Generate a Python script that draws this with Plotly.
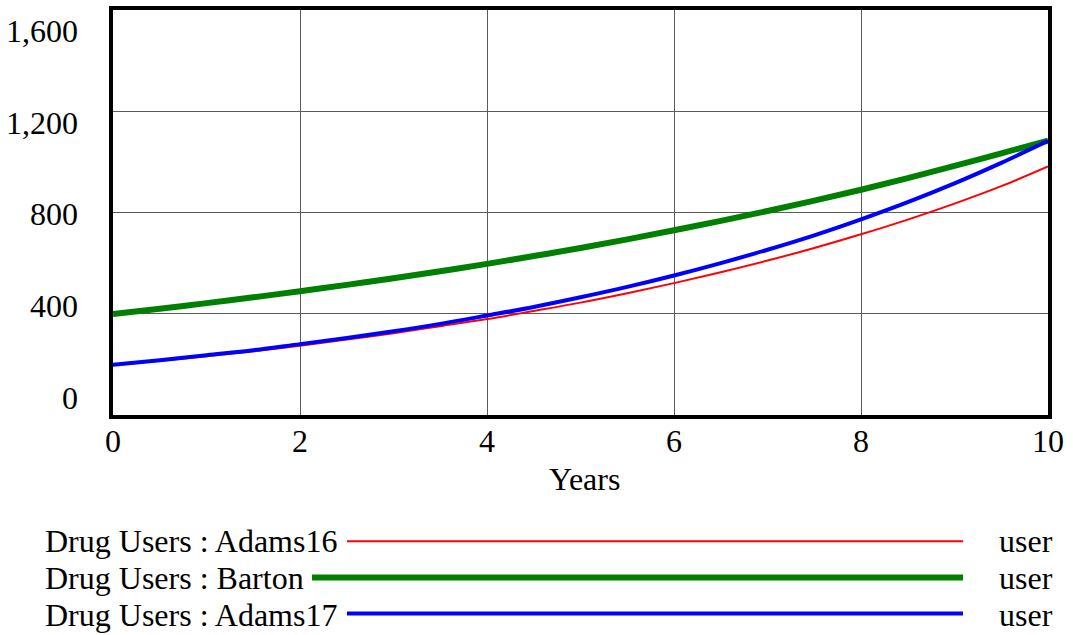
import plotly.graph_objects as go

# ---- data ----
years = [0, 0.5, 1, 1.5, 2, 2.5, 3, 3.5, 4, 4.5, 5, 5.5, 6, 6.5, 7, 7.5, 8, 8.5, 9, 9.5, 10]
adams16 = [197, 214, 232, 252, 274, 298, 323, 351, 379, 411, 444, 481, 521, 564, 610, 660, 714, 772, 835, 904, 982]
barton = [399, 420, 442, 465, 489, 514, 540, 568, 597, 628, 660, 694, 730, 767, 806, 847, 890, 936, 984, 1034, 1084]
adams17 = [198, 216, 236, 256, 280, 304, 331, 360, 393, 427, 465, 506, 551, 600, 653, 710, 773, 841, 915, 996, 1083]

series_names = ["Drug Users : Adams16", "Drug Users : Barton", "Drug Users : Adams17"]
series_units = ["user", "user", "user"]
y_tick_values = [0, 400, 800, 1200, 1600]
y_tick_labels = ["0", "400", "800", "1,200", "1,600"]
x_tick_values = [0, 2, 4, 6, 8, 10]
x_tick_labels = ["0", "2", "4", "6", "8", "10"]
x_axis_title = "Years"

# ---- styling / layout ----
colors = ["#ff0000", "#008000", "#0000ff"]
widths = [2, 6, 4]
FONT = "Liberation Serif, Times New Roman, serif"
FS = 32

W, H = 1073, 635
L, R, T, B = 113, 25, 6, 220
pw, ph = W - L - R, H - T - B


def px_x(x):
    return (x - L) / pw


def px_y(y):
    return (H - B - y) / ph


fig = go.Figure()
for vals, name, c, w in zip([adams16, barton, adams17], series_names, colors, widths):
    fig.add_trace(go.Scatter(x=years, y=vals, mode="lines", name=name,
                             line=dict(color=c, width=w, shape="spline"),
                             showlegend=False))

txtfont = dict(family=FONT, size=FS, color="black")
annotations = []
# y tick labels (spread evenly between top and bottom, as in the reference)
lab_top, lab_bot = 27, 398
n = len(y_tick_labels)
for i, lab in enumerate(y_tick_labels):
    ypx = lab_bot - (lab_bot - lab_top) * i / (n - 1)
    annotations.append(dict(text=lab, xref="paper", yref="paper", x=px_x(80), y=px_y(ypx),
                            xanchor="right", yanchor="middle", showarrow=False, font=txtfont))
# x tick labels
for v, lab in zip(x_tick_values, x_tick_labels):
    annotations.append(dict(text=lab, xref="x", yref="paper", x=v, y=px_y(441),
                            xanchor="center", yanchor="middle", showarrow=False, font=txtfont))
# x axis title
annotations.append(dict(text=x_axis_title, xref="paper", yref="paper", x=px_x(584), y=px_y(480),
                        xanchor="center", yanchor="middle", showarrow=False, font=txtfont))

# custom legend
row_text_y = [542, 580, 617]
row_line_y = [542.5, 579, 615.5]
line_start = [347, 312, 347]
line_end = 963
shapes = []
for i, name in enumerate(series_names):
    annotations.append(dict(text=name, xref="paper", yref="paper", x=px_x(43), y=px_y(row_text_y[i]),
                            xanchor="left", yanchor="middle", showarrow=False, font=txtfont))
    annotations.append(dict(text=series_units[i], xref="paper", yref="paper", x=px_x(997), y=px_y(row_text_y[i]),
                            xanchor="left", yanchor="middle", showarrow=False, font=txtfont))
    shapes.append(dict(type="line", xref="paper", yref="paper",
                       x0=px_x(line_start[i]), x1=px_x(line_end),
                       y0=px_y(row_line_y[i]), y1=px_y(row_line_y[i]),
                       line=dict(color=colors[i], width=widths[i])))

fig.update_layout(
    width=W, height=H,
    margin=dict(l=L, r=R, t=T, b=B, pad=0),
    paper_bgcolor="white", plot_bgcolor="white",
    font=txtfont,
    annotations=annotations, shapes=shapes,
    xaxis=dict(range=[0, 10], tickvals=x_tick_values, showticklabels=False,
               showgrid=True, gridcolor="#5a5a5a", gridwidth=1, zeroline=False,
               showline=True, linecolor="black", linewidth=3.5, mirror=True, ticks=""),
    yaxis=dict(range=[0, 1600], tickvals=y_tick_values, showticklabels=False,
               showgrid=True, gridcolor="#5a5a5a", gridwidth=1, zeroline=False,
               showline=True, linecolor="black", linewidth=3.5, mirror=True, ticks=""),
)

fig.write_html("out.html", config={"displayModeBar": False},
               post_script="document.body.style.margin='0';document.body.style.overflow='hidden';")
